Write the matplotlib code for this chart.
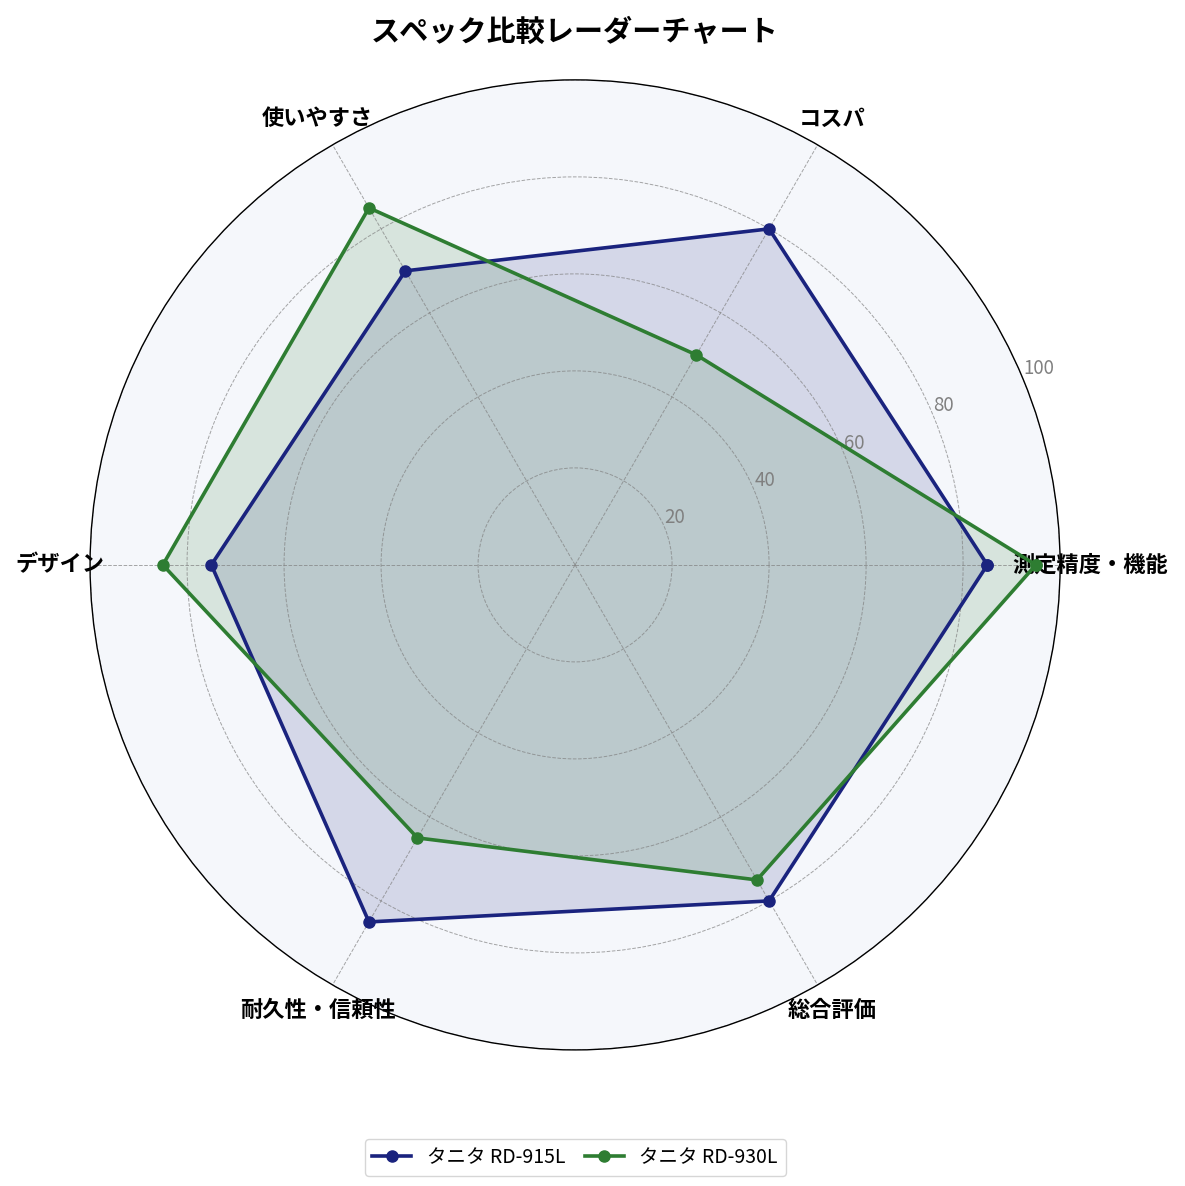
import numpy as np
import matplotlib
matplotlib.use("Agg")
import matplotlib.pyplot as plt

plt.rcParams['font.family'] = ['Noto Sans CJK JP', 'DejaVu Sans']

categories = ['測定精度・機能', 'コスパ', '使いやすさ', 'デザイン', '耐久性・信頼性', '総合評価']
rd915l = [85, 80, 70, 75, 85, 80]
rd930l = [95, 50, 85, 85, 65, 75]
series_names = ['タニタ RD-915L', 'タニタ RD-930L']
series_colors = ['#1a237e', '#2e7d32']
r_ticks = [20, 40, 60, 80, 100]

n = len(categories)
angles = np.linspace(0, 2 * np.pi, n, endpoint=False).tolist()
angles_closed = angles + angles[:1]

fig = plt.figure(figsize=(11.85, 11.86), dpi=100)
ax = fig.add_axes([0.076, 0.1147, 0.8186, 0.818], projection='polar')
ax.set_facecolor('#f5f7fb')

for vals, name, col in zip([rd915l, rd930l], series_names, series_colors):
    v = vals + vals[:1]
    ax.plot(angles_closed, v, color=col, linewidth=2.6, marker='o', markersize=8, label=name)
    ax.fill(angles_closed, v, color=col, alpha=0.15)

ax.set_ylim(0, 100)
ax.set_xticks(angles)
ax.set_xticklabels(categories, fontsize=16, fontweight='bold')
ax.tick_params(axis='x', pad=11)
ax.set_yticks(r_ticks)
ax.set_yticklabels([str(t) for t in r_ticks], fontsize=13.5, color='gray')
ax.set_rlabel_position(22.5)
ax.grid(color='gray', linestyle='--', linewidth=0.7, alpha=0.7)
ax.spines['polar'].set_color('black')
ax.spines['polar'].set_linewidth(1.0)
for lbl in ax.get_xticklabels():
    lbl.set_zorder(5)

ax.set_title('スペック比較レーダーチャート', fontsize=21, fontweight='bold', pad=28)
ax.legend(loc='upper center', bbox_to_anchor=(0.5, -0.082), ncol=2, fontsize=14,
          columnspacing=1.0, handletextpad=0.8)

fig.savefig('out.png', dpi=100)
